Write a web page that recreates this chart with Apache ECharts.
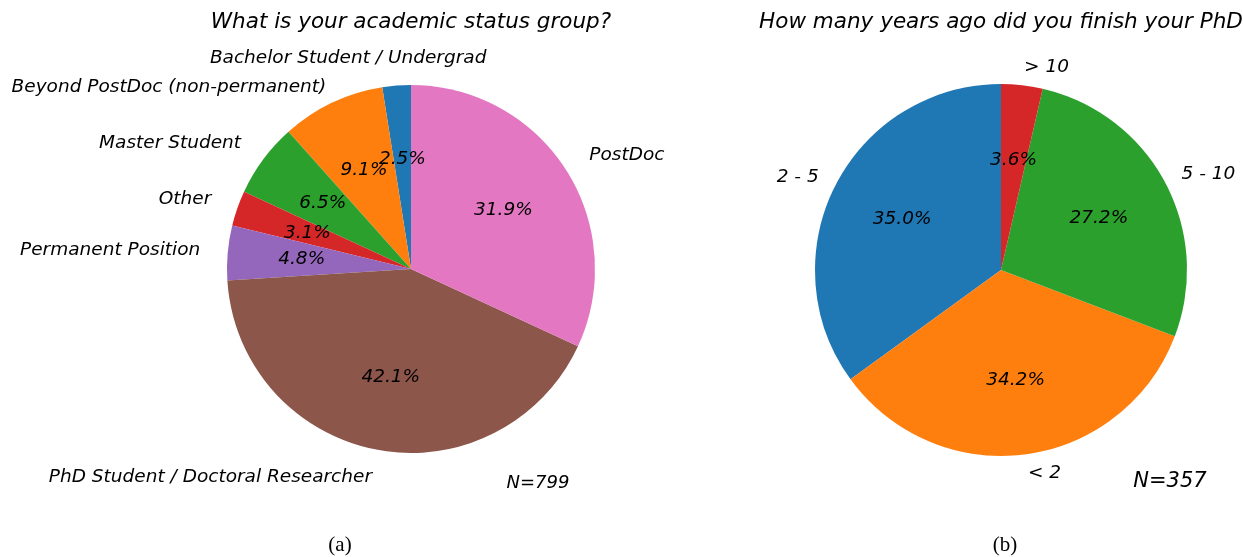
<!DOCTYPE html>
<html>
<head>
<meta charset="utf-8">
<script src="https://cdn.jsdelivr.net/npm/echarts@6/dist/echarts.min.js"></script>
<style>
  html, body { margin: 0; padding: 0; background: #fff; }
  #main { width: 1243px; height: 557px; }
</style>
</head>
<body>
<div id="main"></div>
<script>
// (a) academic status, percent of N=799
var statusNames = ['Bachelor Student / Undergrad', 'Beyond PostDoc (non-permanent)', 'Master Student', 'Other', 'Permanent Position', 'PhD Student / Doctoral Researcher', 'PostDoc'];
var statusValues = [2.5, 9.1, 6.5, 3.1, 4.8, 42.1, 31.9];
var statusColors = ['#1f77b4', '#ff7f0e', '#2ca02c', '#d62728', '#9467bd', '#8c564b', '#e377c2'];

// (b) years since PhD, percent of N=357
var yearsNames = ['2 - 5', '< 2', '5 - 10', '> 10'];
var yearsValues = [35.0, 34.2, 27.2, 3.6];
var yearsColors = ['#1f77b4', '#ff7f0e', '#2ca02c', '#d62728'];

var font = 'DejaVu Sans';

function toData(names, values, colors) {
    var arr = [];
    for (var i = 0; i < names.length; i++) {
        arr.push({ name: names[i], value: values[i], itemStyle: { color: colors[i] } });
    }
    return arr;
}

// main pie with outer labels at dist * r
function pieSeries(names, values, colors, center, r, dist, nudge) {
    var s = {
        type: 'pie',
        center: center,
        radius: r,
        startAngle: 90,
        clockwise: false,
        silent: true,
        avoidLabelOverlap: false,
        itemStyle: { borderWidth: 0 },
        label: {
            show: true,
            position: 'outside',
            distanceToLabelLine: 0,
            formatter: '{b}',
            color: '#000',
            fontFamily: font,
            fontStyle: 'italic',
            fontSize: 18.5
        },
        labelLine: { show: false, length: r * (dist - 1), length2: 0 },
        data: toData(names, values, colors)
    };
    if (nudge) {
        // a few labels were moved by hand in the original
        s.labelLayout = function (p) {
            var n = nudge[names[p.dataIndex]];
            return n ? { dx: n[0], dy: n[1] } : {};
        };
    }
    return s;
}

// transparent larger pie so that 'inside' labels sit near 0.6 r
function pctSeries(names, values, center, r) {
    var data = [];
    for (var i = 0; i < names.length; i++) {
        data.push({ name: names[i], value: values[i] });
    }
    return {
        type: 'pie',
        center: center,
        radius: r * 1.16,
        startAngle: 90,
        clockwise: false,
        silent: true,
        avoidLabelOverlap: false,
        minShowLabelAngle: 0,
        z: 5,
        itemStyle: { color: 'rgba(0,0,0,0)', borderWidth: 0 },
        label: {
            show: true,
            position: 'inside',
            rotate: 0,
            overflow: 'none',
            formatter: function (p) { return p.value.toFixed(1) + '%'; },
            color: '#000',
            fontFamily: font,
            fontStyle: 'italic',
            fontSize: 18.5
        },
        labelLine: { show: false },
        labelLayout: { hideOverlap: false },
        data: data
    };
}

function txt(x, y, s, size, fam, style) {
    return {
        type: 'text', x: x, y: y, silent: true,
        style: {
            text: s, fill: '#000', fontSize: size, fontFamily: fam, fontStyle: style,
            textAlign: 'center', textVerticalAlign: 'middle'
        }
    };
}

var chart = echarts.init(document.getElementById('main'));
chart.setOption({
    animation: false,
    graphic: [
        txt(411, 22, 'What is your academic status group?', 21.5, font, 'italic'),
        txt(1001, 22, 'How many years ago did you finish your PhD', 21.5, font, 'italic'),
        txt(538, 483, 'N=799', 18, font, 'italic'),
        txt(1170, 482, 'N=357', 21, font, 'italic'),
        txt(340, 545, '(a)', 21, 'Liberation Serif', 'normal'),
        txt(1005, 545, '(b)', 21, 'Liberation Serif', 'normal')
    ],
    series: [
        pieSeries(statusNames, statusValues, statusColors, [411, 269], 184, 1.15, {
            'Bachelor Student / Undergrad': [92, 0],
            'Beyond PostDoc (non-permanent)': [6, 9]
        }),
        pctSeries(statusNames, statusValues, [411, 269], 184),
        pieSeries(yearsNames, yearsValues, yearsColors, [1001, 270], 186, 1.1),
        pctSeries(yearsNames, yearsValues, [1001, 270], 186)
    ]
});
</script>
</body>
</html>
